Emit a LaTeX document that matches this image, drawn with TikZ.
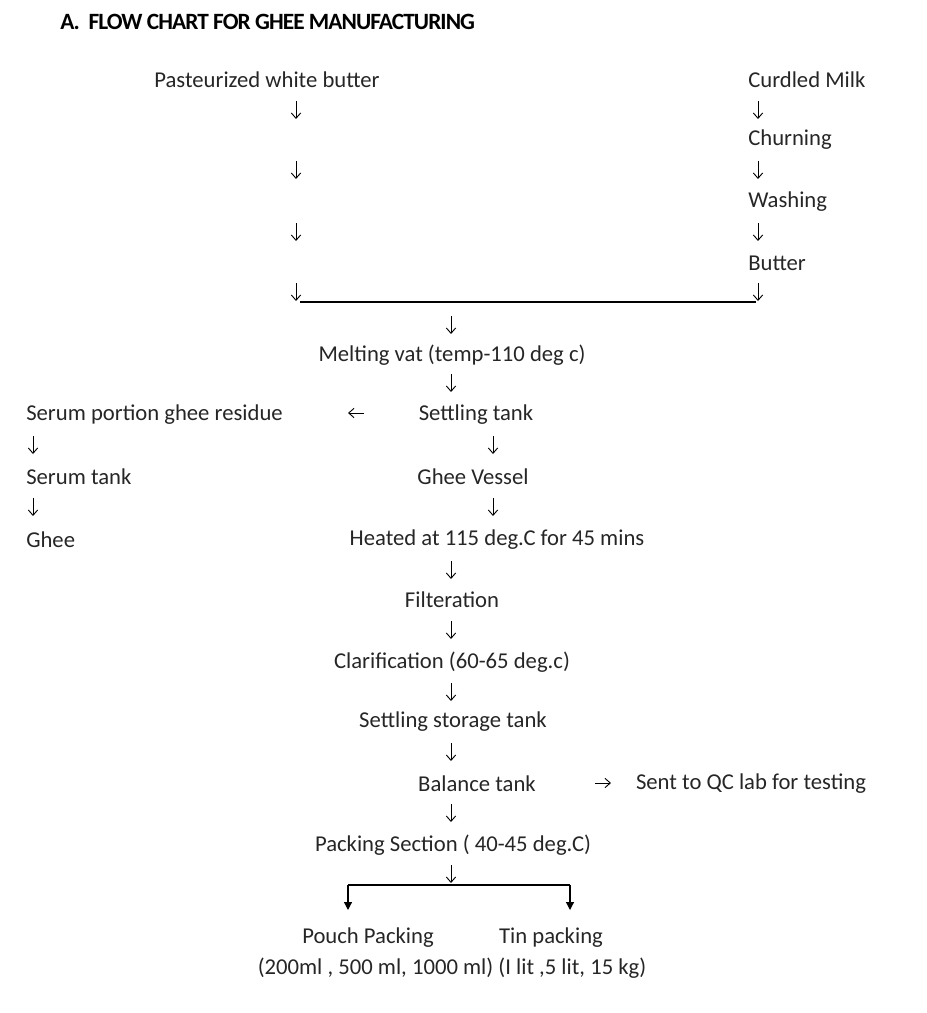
\documentclass[tikz,border=0pt]{standalone}
\usepackage{fontspec}
\setmainfont{Carlito}
\usetikzlibrary{arrows.meta}
\begin{document}
\begin{tikzpicture}[x=0.75pt,y=-0.75pt,
  t/.style={font=\fontsize{17}{20}\selectfont, inner sep=0pt, text=black!85},
  tl/.style={t, anchor=west},
  dn/.style={-{Straight Barb[length=4pt,width=7pt]}, line width=0.7pt},
  br/.style={-{Triangle[length=6pt,width=6pt]}, line width=0.9pt}]
\useasboundingbox (0,0) rectangle (927,1013);
\node[anchor=west, inner sep=0pt, font=\bfseries\fontsize{17.5}{20}\selectfont\addfontfeatures{LetterSpace=-4}] (title) at (60,22) {A.\ \ FLOW CHART FOR GHEE MANUFACTURING};
\node[t] (pwb) at (267,80) {Pasteurized white butter};
\foreach \y [count=\i] in {110,170,232,292} \draw[dn] (296,\y-9) -- (296,\y+9);
\node[tl] (cm) at (748,80) {Curdled Milk};
\node[tl] (ch) at (748,140) {Churning};
\node[tl] (wa) at (748,202) {Washing};
\node[tl] (bu) at (748,263) {Butter};
\foreach \y in {110,170,232,292} \draw[dn] (758,\y-9) -- (758,\y+9);
\coordinate (jl) at (300,302); \coordinate (jr) at (756,302);
\draw[line width=0.9pt] (jl) -- (jr);
\draw[dn] (451,316) -- (451,334);
\node[t] (mv) at (452,355) {Melting vat (temp-110 deg c)};
\draw[dn] (451,374) -- (451,392);
\node[t] (st) at (476,415) {Settling tank};
\draw[dn] (364,413) -- (348,413);
\node[tl] (sp) at (26,415) {Serum portion ghee residue};
\draw[dn] (33,436) -- (33,454);
\node[tl] (stk) at (26,477) {Serum tank};
\draw[dn] (33,498) -- (33,516);
\node[tl] (gh) at (26,540) {Ghee};
\draw[dn] (493,436) -- (493,454);
\node[t] (gv) at (473,477) {Ghee Vessel};
\draw[dn] (493,498) -- (493,516);
\node[t] (he) at (497,540) {Heated at 115 deg.C for 45 mins};
\draw[dn] (451,561) -- (451,579);
\node[t] (fi) at (452,600) {Filteration};
\draw[dn] (451,621) -- (451,639);
\node[t] (cl) at (452,662) {Clarification (60-65 deg.c)};
\draw[dn] (451,683) -- (451,701);
\node[t] (sst) at (453,722) {Settling storage tank};
\draw[dn] (451,743) -- (451,761);
\node[t] (bt) at (477,784) {Balance tank};
\draw[dn] (595,783) -- (611,783);
\node[t] (qc) at (751,784) {Sent to QC lab for testing};
\draw[dn] (451,804) -- (451,822);
\node[t] (ps) at (453,845) {Packing Section ( 40-45 deg.C)};
\draw[dn] (451,865) -- (451,883);
\coordinate (bl) at (348,885); \coordinate (brr) at (570,885);
\draw[line width=0.9pt] (bl) -- (brr);
\node[t] (pp) at (368,938) {Pouch Packing};
\node[t] (tp) at (551,938) {Tin packing};
\draw[br] (bl) -- (348,910);
\draw[br] (brr) -- (570,910);
\node[t] (sz) at (452,968) {(200ml , 500 ml, 1000 ml) (I lit ,5 lit, 15 kg)};
\end{tikzpicture}
\end{document}
